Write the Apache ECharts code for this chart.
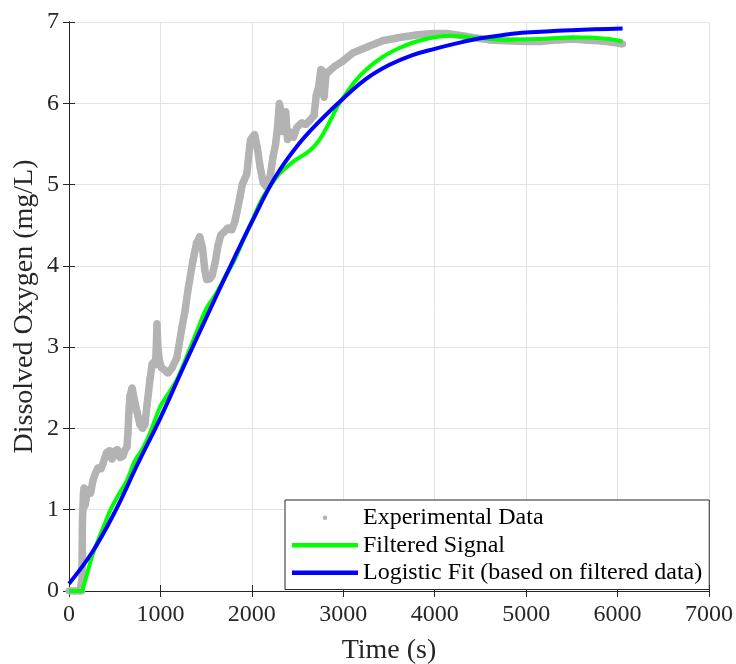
<!DOCTYPE html>
<html>
<head>
<meta charset="utf-8">
<title>Dissolved Oxygen</title>
<script src="https://cdn.jsdelivr.net/npm/echarts@6.0.0/dist/echarts.min.js"></script>
<style>
  html, body { margin: 0; padding: 0; background: #fff; }
  #chart { width: 736px; height: 664px; }
</style>
</head>
<body>
<div id="chart"></div>
<script>
const expTime = [0, 60, 120, 140, 142, 143, 144, 145, 146, 148, 152, 158, 165, 175, 190, 210, 235, 262, 290, 320,
  350, 372, 410, 448, 470, 500, 530, 557, 590, 615, 634, 645, 655, 667, 690, 715, 745, 775, 805, 830,
  855, 885, 910, 930, 945, 955, 962, 970, 985, 1010, 1045, 1082, 1130, 1180, 1235, 1270, 1305, 1355, 1395, 1430,
  1460, 1485, 1505, 1540, 1565, 1600, 1630, 1660, 1700, 1740, 1780, 1815, 1840, 1870, 1895, 1945, 1965, 1985, 2030, 2060,
  2090, 2125, 2160, 2200, 2230, 2260, 2285, 2300, 2320, 2335, 2350, 2370, 2390, 2420, 2455, 2490, 2545, 2590, 2635, 2680,
  2705, 2730, 2755, 2775, 2790, 2810, 2850, 2900, 2995, 3105, 3255, 3430, 3615, 3800, 3980, 4130, 4300, 4415, 4600, 4785,
  5000, 5150, 5350, 5510, 5650, 5800, 5950, 6055];
const expDO = [0, 0, 0, 0, 0.15, 0.3, 0.45, 0.6, 0.75, 0.9, 1.0, 1.2, 1.27, 1.05, 1.15, 1.25, 1.2, 1.36, 1.45, 1.52,
  1.5, 1.57, 1.7, 1.73, 1.62, 1.72, 1.74, 1.64, 1.66, 1.74, 1.77, 1.95, 2.2, 2.4, 2.5, 2.35, 2.2, 2.05, 2.0, 2.05,
  2.3, 2.6, 2.8, 2.82, 2.78, 3.0, 3.29, 3.05, 2.85, 2.75, 2.72, 2.68, 2.75, 2.87, 3.24, 3.45, 3.73, 4.06, 4.28, 4.36,
  4.22, 3.95, 3.83, 3.84, 3.88, 4.05, 4.25, 4.38, 4.42, 4.47, 4.44, 4.55, 4.68, 4.85, 5.0, 5.13, 5.35, 5.55, 5.62, 5.45,
  5.22, 5.02, 4.97, 5.1, 5.33, 5.5, 5.75, 6.0, 5.9, 5.65, 5.85, 5.9, 5.55, 5.65, 5.58, 5.7, 5.76, 5.74, 5.79, 5.85,
  6.1, 6.2, 6.42, 6.4, 6.07, 6.35, 6.4, 6.45, 6.52, 6.62, 6.69, 6.77, 6.81, 6.84, 6.86, 6.86, 6.83, 6.81, 6.78, 6.77,
  6.76, 6.76, 6.78, 6.79, 6.78, 6.77, 6.75, 6.73];

// filtered signal (green)
const filtTime = [0, 140, 160, 200, 262, 360, 450, 535, 634, 720, 810, 885, 995, 1070, 1180, 1300, 1400, 1500, 1600, 1700,
  1800, 1900, 2000, 2100, 2200, 2300, 2450, 2635, 2745, 2850, 2940, 3000, 3120, 3255, 3430, 3615, 3800, 3980, 4165, 4415,
  4785, 5150, 5510, 5700, 5900, 6055];
const filtDO = [0, 0, 0.06, 0.22, 0.46, 0.74, 0.99, 1.17, 1.36, 1.6, 1.76, 1.94, 2.26, 2.4, 2.6, 2.92, 3.2, 3.47, 3.64, 3.85,
  4.05, 4.3, 4.55, 4.8, 4.98, 5.13, 5.28, 5.42, 5.56, 5.77, 5.97, 6.07, 6.26, 6.42, 6.57, 6.68, 6.76, 6.81, 6.83, 6.81,
  6.78, 6.79, 6.81, 6.81, 6.79, 6.76];

// logistic fit (blue)
const fitTime = [0, 250, 500, 750, 1000, 1250, 1500, 1750, 2000, 2250, 2500, 2750, 3000, 3250, 3500, 3750, 4000, 4250, 4500, 4750,
  5000, 5500, 6055];
const fitDO = [0.09, 0.47, 0.97, 1.56, 2.13, 2.75, 3.36, 3.96, 4.54, 5.08, 5.48, 5.79, 6.06, 6.3, 6.47, 6.59, 6.67, 6.74, 6.8, 6.84,
  6.87, 6.9, 6.92];

const seriesNames = ['Experimental Data', 'Filtered Signal', 'Logistic Fit (based on filtered data)'];
const xTicks = [0, 7000, 1000];
const yTicks = [0, 7, 1];

const zip = (xs, ys) => xs.map((x, i) => [x, ys[i]]);

const FONT = '"Liberation Serif", "Times New Roman", serif';
const AXIS_COLOR = '#262626';

const chart = echarts.init(document.getElementById('chart'));

const baseX = {
  type: 'value',
  min: xTicks[0],
  max: xTicks[1],
  interval: xTicks[2],
  axisLine: { show: true, lineStyle: { color: AXIS_COLOR, width: 1 } },
  axisTick: { show: true, inside: true, length: 6, lineStyle: { color: AXIS_COLOR } },
};
const baseY = {
  type: 'value',
  min: yTicks[0],
  max: yTicks[1],
  interval: yTicks[2],
  axisLine: { show: true, lineStyle: { color: AXIS_COLOR, width: 1 } },
  axisTick: { show: true, inside: true, length: 6, lineStyle: { color: AXIS_COLOR } },
};

const option = {
  animation: false,
  backgroundColor: '#fff',
  grid: { left: 69, right: 27, top: 22, bottom: 73, outerBoundsMode: 'none' },
  legend: {
    data: [
      { name: seriesNames[0], icon: 'circle' },
      { name: seriesNames[1], icon: 'rect' },
      { name: seriesNames[2], icon: 'rect' },
    ],
    orient: 'vertical',
    left: 285,
    top: 500,
    itemWidth: 66,
    itemHeight: 4.5,
    itemGap: 0,
    padding: [4, 7, 3, 7],
    backgroundColor: '#fff',
    borderColor: AXIS_COLOR,
    borderWidth: 1,
    borderRadius: 0,
    selectedMode: false,
    itemStyle: { borderWidth: 0 },
    textStyle: { fontFamily: FONT, fontSize: 24, color: '#000', lineHeight: 27.5 },
    z: 10,
  },
  xAxis: [
    Object.assign({}, baseX, {
      position: 'bottom',
      name: 'Time (s)',
      nameLocation: 'middle',
      nameGap: 46,
      nameMoveOverlap: false,
      nameTextStyle: { fontFamily: FONT, fontSize: 28, color: AXIS_COLOR },
      axisLabel: { margin: 12, fontFamily: FONT, fontSize: 24, color: AXIS_COLOR, formatter: (v) => String(v) },
      splitLine: { show: true, lineStyle: { color: '#e3e3e3', width: 1 } },
    }),
    Object.assign({}, baseX, {
      position: 'top',
      axisLabel: { show: false },
      splitLine: { show: false },
    }),
  ],
  yAxis: [
    Object.assign({}, baseY, {
      position: 'left',
      name: 'Dissolved Oxygen (mg/L)',
      nameLocation: 'middle',
      nameGap: 30,
      nameMoveOverlap: false,
      nameTextStyle: { fontFamily: FONT, fontSize: 28, color: AXIS_COLOR },
      axisLabel: { margin: 10, fontFamily: FONT, fontSize: 24, color: AXIS_COLOR },
      splitLine: { show: true, lineStyle: { color: '#e3e3e3', width: 1 } },
    }),
    Object.assign({}, baseY, {
      position: 'right',
      axisLabel: { show: false },
      splitLine: { show: false },
    }),
  ],
  series: [
    {
      name: seriesNames[0],
      type: 'line',
      data: zip(expTime, expDO),
      symbol: 'circle',
      symbolSize: 7,
      showSymbol: true,
      showAllSymbol: true,
      color: '#b3b3b3',
      itemStyle: { color: '#b3b3b3' },
      lineStyle: { color: '#b3b3b3', width: 7.5 },
      emphasis: { disabled: true },
      z: 2,
    },
    {
      name: seriesNames[1],
      type: 'line',
      data: zip(filtTime, filtDO),
      symbol: 'none',
      smooth: 0.3,
      color: '#00ff00',
      lineStyle: { color: '#00ff00', width: 4 },
      emphasis: { disabled: true },
      z: 3,
    },
    {
      name: seriesNames[2],
      type: 'line',
      data: zip(fitTime, fitDO),
      symbol: 'none',
      smooth: 0.4,
      color: '#0000ff',
      lineStyle: { color: '#0000ff', width: 4 },
      emphasis: { disabled: true },
      z: 4,
    },
  ],
};

chart.setOption(option);
</script>
</body>
</html>
